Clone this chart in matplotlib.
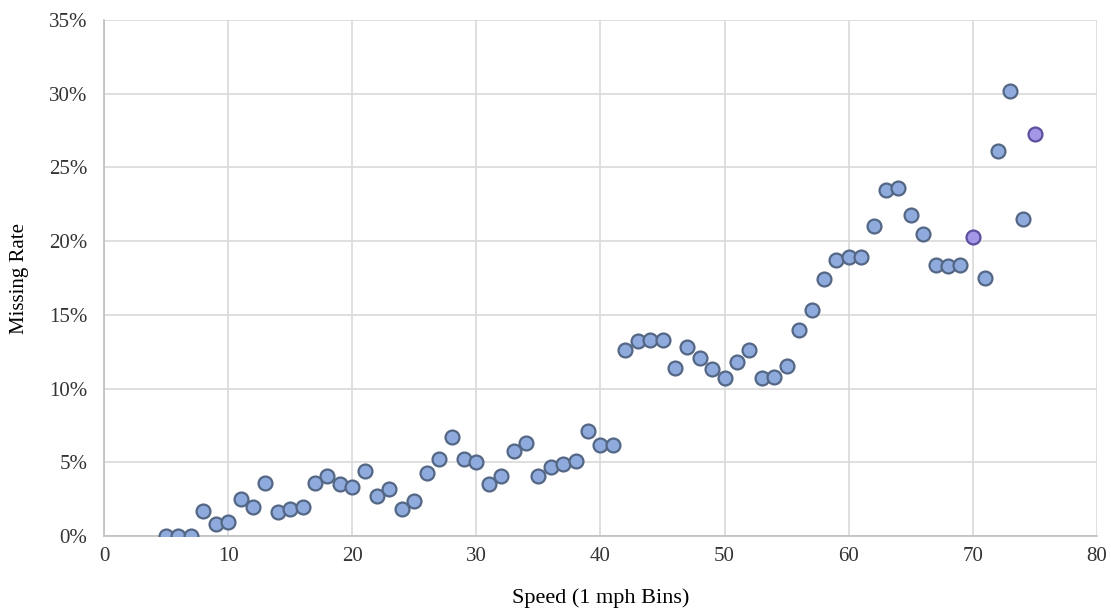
import numpy as np
import matplotlib.pyplot as plt
from matplotlib.ticker import FuncFormatter

plt.rcParams['font.family'] = ['Liberation Serif', 'DejaVu Serif']

speed = np.arange(5, 76)
missing_rate = [
    0.0, 0.0, 0.0, 1.7, 0.8, 0.95, 2.5, 2.0, 3.6, 1.6,
    1.8, 2.0, 3.6, 4.1, 3.5, 3.3, 4.4, 2.7, 3.2, 1.8,
    2.4, 4.3, 5.2, 6.7, 5.2, 5.0, 3.5, 4.1, 5.8, 6.3,
    4.1, 4.7, 4.9, 5.1, 7.1, 6.2, 6.2, 12.6, 13.2, 13.3,
    13.3, 11.4, 12.8, 12.1, 11.3, 10.7, 11.8, 12.6, 10.7, 10.8,
    11.5, 14.0, 15.3, 17.4, 18.7, 18.9, 18.9, 21.0, 23.5, 23.6,
    21.8, 20.5, 18.4, 18.3, 18.4, 20.3, 17.5, 26.1, 30.2, 21.5,
    27.3,
]
highlight = [70, 75]

speed = np.array(speed)
rate = np.array(missing_rate)
is_hl = np.isin(speed, highlight)

fig = plt.figure(figsize=(11.11, 6.11), dpi=100)
ax = fig.add_axes([0.0936, 0.1227, 0.8938, 0.8446])

ax.scatter(speed[~is_hl], rate[~is_hl], s=100, facecolor="#8faadc",
           edgecolor="#536684", linewidth=1.6, zorder=3)
ax.scatter(speed[is_hl], rate[is_hl], s=100, facecolor="#a397e6",
           edgecolor="#5e4f9e", linewidth=1.6, zorder=3)

ax.set_xlim(0, 80)
ax.set_ylim(0, 35)
ax.set_xticks(range(0, 81, 10))
ax.set_yticks(range(0, 36, 5))
ax.yaxis.set_major_formatter(FuncFormatter(lambda v, p: f"{v:.0f}%"))

ax.grid(True, color="#d9d9d9", linewidth=1.2)
ax.set_axisbelow(True)
for side in ["top", "right"]:
    ax.spines[side].set_visible(False)
for side in ["left", "bottom"]:
    ax.spines[side].set_color("#bfbfbf")
    ax.spines[side].set_linewidth(1.2)
ax.tick_params(axis="y", length=0, labelsize=15, colors="#333333", pad=12)
ax.tick_params(axis="x", length=0, labelsize=15, colors="#333333", pad=8)

ax.set_xlabel("Speed (1 mph Bins)", fontsize=16, labelpad=16)
ax.set_ylabel("Missing Rate", fontsize=15)
ax.yaxis.set_label_coords(-0.076, 0.5)

fig.savefig("out.png", dpi=100)
